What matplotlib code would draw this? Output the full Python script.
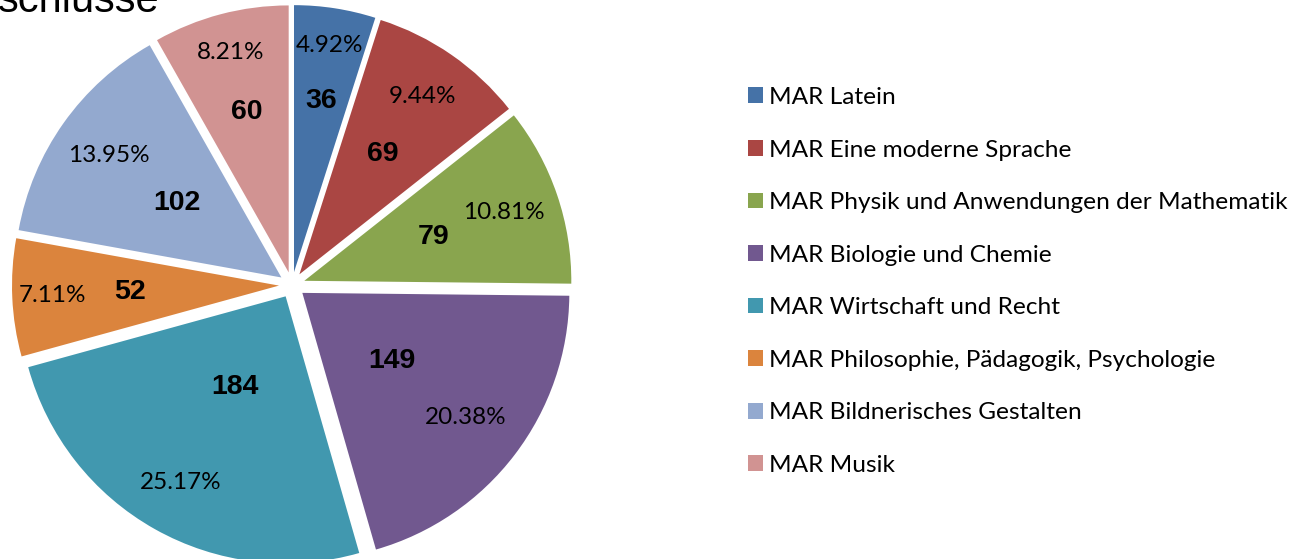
import matplotlib
matplotlib.use("Agg")
import matplotlib.pyplot as plt
import numpy as np

categories = ["MAR Latein", "MAR Eine moderne Sprache",
              "MAR Physik und Anwendungen der Mathematik",
              "MAR Biologie und Chemie", "MAR Wirtschaft und Recht",
              "MAR Philosophie, Pädagogik, Psychologie",
              "MAR Bildnerisches Gestalten", "MAR Musik"]
values = [36, 69, 79, 149, 184, 52, 102, 60]
colors = ["#4572A7", "#AA4643", "#89A54E", "#71588F",
          "#4198AF", "#DB843D", "#93A9CF", "#D19392"]
title_text = "schlüsse"

# label layout (radial fraction of the radius, from each slice's centre)
value_dist = [0.65, 0.55, 0.51, 0.42, 0.39, 0.56, 0.48, 0.62]
pct_dist = [0.86, 0.81, 0.79, 0.77, 0.80, 0.85, 0.79, 0.85]

W, H = 1305, 559
fig = plt.figure(figsize=(W / 100, H / 100), dpi=100)
ax = fig.add_axes([0, 0, 1, 1])

R = 267
cx, cy = 292, H - 285
expl = 13
wedges, _ = ax.pie(values, colors=colors, startangle=90, counterclock=False,
                   radius=R, center=(cx, cy), explode=[expl] * len(values),
                   wedgeprops=dict(linewidth=0))
ax.set_xlim(0, W)
ax.set_ylim(0, H)
ax.set_aspect("equal")
ax.axis("off")

total = sum(values)
for w, v, dv, dp in zip(wedges, values, value_dist, pct_dist):
    th = np.deg2rad((w.theta1 + w.theta2) / 2)
    x0, y0 = w.center
    ax.text(x0 + dv * w.r * np.cos(th), y0 + dv * w.r * np.sin(th), str(v),
            ha="center", va="center", fontsize=20.5, fontweight="bold",
            family="Liberation Sans", color="black")
    ax.text(x0 + dp * w.r * np.cos(th), y0 + dp * w.r * np.sin(th),
            f"{100 * v / total:.2f}%", ha="center", va="center",
            fontsize=17.5, family="Lato", color="black")

fig.text(-0.002, 1 - 12 / H, title_text, ha="left", va="baseline",
         fontsize=30, family="Liberation Sans")

leg = fig.legend(wedges, categories, loc="upper left",
                 bbox_to_anchor=(748 / W, 1 - 87 / H), frameon=False,
                 prop=dict(family="Lato", size=17.6),
                 handlelength=0.62, handleheight=0.62, handletextpad=0.25,
                 labelspacing=1.29, borderpad=0, borderaxespad=0)

fig.savefig("out.png", dpi=100)
